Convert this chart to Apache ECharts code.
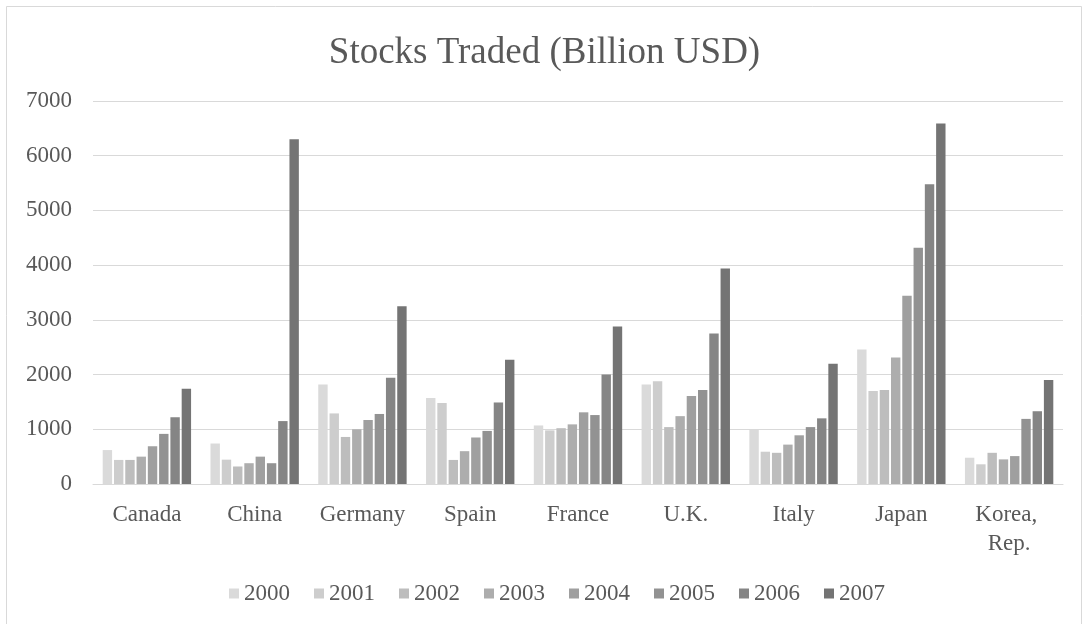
<!DOCTYPE html>
<html>
<head>
<meta charset="utf-8">
<script src="https://cdn.jsdelivr.net/npm/echarts@6/dist/echarts.min.js"></script>
<style>
  html, body { margin: 0; padding: 0; background: #ffffff; }
  #chart { width: 1089px; height: 624px; }
</style>
</head>
<body>
<div id="chart"></div>
<script>
// Countries on the category axis
const countries = ['Canada', 'China', 'Germany', 'Spain', 'France', 'U.K.', 'Italy', 'Japan', 'Korea, Rep.'];

// Years shown as series
const years = ['2000', '2001', '2002', '2003', '2004', '2005', '2006', '2007'];

// Stocks traded per year, billion USD, in country order
const v2000 = [620, 740, 1820, 1570, 1070, 1820, 990, 2460, 480];
const v2001 = [440, 445, 1290, 1480, 980, 1880, 590, 1700, 360];
const v2002 = [440, 320, 860, 440, 1020, 1040, 570, 1720, 570];
const v2003 = [500, 380, 1000, 600, 1090, 1240, 720, 2310, 450];
const v2004 = [690, 500, 1170, 850, 1310, 1610, 890, 3440, 510];
const v2005 = [916, 380, 1280, 970, 1260, 1720, 1040, 4320, 1190];
const v2006 = [1220, 1150, 1940, 1490, 2000, 2750, 1200, 5480, 1330];
const v2007 = [1740, 6300, 3250, 2270, 2880, 3940, 2200, 6590, 1900];

// Value axis ticks
const yTicks = [0, 1000, 2000, 3000, 4000, 5000, 6000, 7000];

const seriesValues = [v2000, v2001, v2002, v2003, v2004, v2005, v2006, v2007];
const shades = ['#dadada', '#cdcdcd', '#bdbdbd', '#adadad', '#9f9f9f', '#929292', '#858585', '#747474'];

const font = '"Liberation Serif", "Times New Roman", serif';
const textColor = '#595959';

const chart = echarts.init(document.getElementById('chart'), null, { renderer: 'canvas' });

chart.setOption({
  backgroundColor: '#ffffff',
  animation: false,
  graphic: [{
    type: 'rect',
    shape: { x: 6.5, y: 6.5, width: 1075, height: 640 },
    style: { fill: 'none', stroke: '#d9d9d9', lineWidth: 1 },
    silent: true,
    z: -1
  }],
  title: {
    text: 'Stocks Traded (Billion USD)',
    left: 'center',
    top: 30,
    textStyle: { fontFamily: font, fontSize: 37, fontWeight: 'normal', color: textColor }
  },
  legend: {
    data: years,
    bottom: 14,
    left: 224,
    icon: 'rect',
    itemWidth: 10,
    itemHeight: 10,
    itemGap: 24,
    textStyle: { fontFamily: font, fontSize: 23, color: textColor }
  },
  grid: { left: 93, right: 26, top: 101, height: 383, containLabel: false },
  xAxis: {
    type: 'category',
    data: countries,
    axisLine: { lineStyle: { color: '#d9d9d9', width: 1 } },
    axisTick: { show: false },
    axisLabel: {
      interval: 0,
      fontFamily: font, fontSize: 23, color: textColor, margin: 16,
      width: 100, overflow: 'break', lineHeight: 29
    }
  },
  yAxis: {
    type: 'value',
    min: yTicks[0],
    max: yTicks[yTicks.length - 1],
    interval: yTicks[1] - yTicks[0],
    axisLine: { show: false },
    axisTick: { show: false },
    splitLine: { lineStyle: { color: '#d9d9d9', width: 1 } },
    axisLabel: {
      fontFamily: font, fontSize: 23, color: textColor, margin: 21,
      formatter: (v) => String(v)
    }
  },
  series: years.map((y, i) => ({
    name: y,
    type: 'bar',
    data: seriesValues[i],
    barGap: '20%',
    barCategoryGap: '18%',
    itemStyle: { color: shades[i] }
  }))
});
</script>
</body>
</html>
